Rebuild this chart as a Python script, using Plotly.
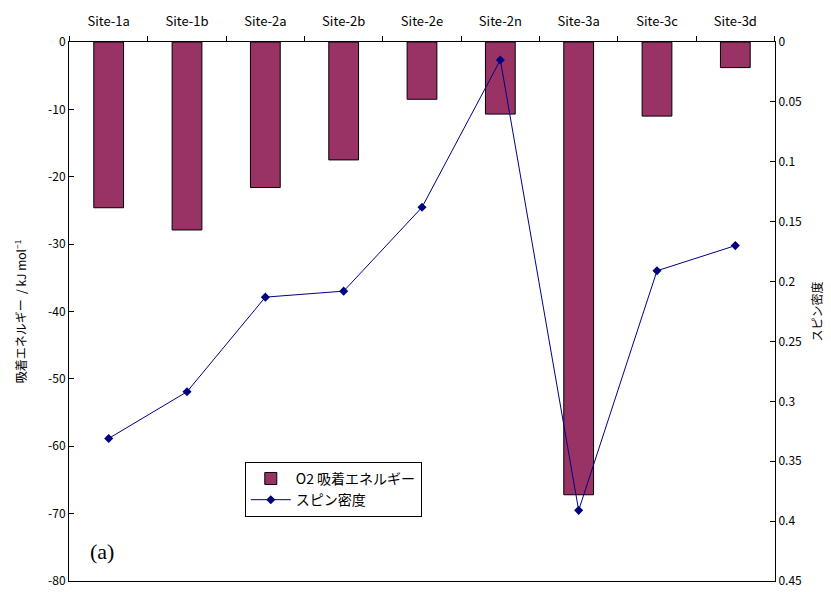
import plotly.graph_objects as go

# Adsorption sites along the top axis
sites = ["Site-1a", "Site-1b", "Site-2a", "Site-2b", "Site-2e",
         "Site-2n", "Site-3a", "Site-3c", "Site-3d"]

# O2 adsorption energy (kJ/mol), left axis
adsorption_energy = [-24.6, -27.9, -21.6, -17.5, -8.5, -10.7, -67.2, -11.0, -3.8]

# Spin density, right axis (reversed)
spin_density = [0.331, 0.292, 0.213, 0.208, 0.138, 0.015, 0.391, 0.191, 0.170]

energy_ticks = [0, -10, -20, -30, -40, -50, -60, -70, -80]
energy_ticktext = ["0", "-10", "-20", "-30", "-40", "-50", "-60", "-70", "-80"]

jp_font = "Noto Sans CJK JP"

fig = go.Figure()

fig.add_trace(go.Bar(
    x=sites, y=adsorption_energy,
    name="O2 吸着エネルギー",
    marker=dict(color="#993366", line=dict(color="black", width=1)),
    yaxis="y",
))

fig.add_trace(go.Scatter(
    x=sites, y=spin_density,
    name="スピン密度",
    mode="lines+markers",
    line=dict(color="#000080", width=1),
    marker=dict(symbol="diamond", size=7, color="#000080"),
    yaxis="y2",
))

fig.update_layout(
    width=831, height=592,
    margin=dict(l=69, r=56, t=42, b=11, autoexpand=False),
    paper_bgcolor="white", plot_bgcolor="white",
    font=dict(family=jp_font, size=12, color="black"),
    bargap=0.62,
    showlegend=True,
    legend=dict(
        x=0.249, y=0.221, xanchor="left", yanchor="top",
        bordercolor="black", borderwidth=1, bgcolor="white",
        font=dict(family=jp_font, size=14),
        itemwidth=40, tracegroupgap=6,
    ),
    xaxis=dict(
        type="category", side="top", automargin=False,
        showline=True, linecolor="black", linewidth=1, mirror=True,
        ticks="outside", ticklen=5, tickcolor="black",
        tickson="boundaries", ticklabelstandoff=10,
        showgrid=False, zeroline=False,
        tickfont=dict(family=jp_font, size=13),
    ),
    yaxis=dict(
        range=[-80, 0], automargin=False,
        tickvals=energy_ticks, ticktext=energy_ticktext,
        showline=True, linecolor="black", linewidth=1,
        ticks="inside", ticklen=5, tickcolor="black",
        showgrid=False, zeroline=False,
        tickfont=dict(family=jp_font, size=12),
        title=dict(text="吸着エネルギー  / kJ mol<sup>−1</sup>",
                   font=dict(family=jp_font, size=12), standoff=18),
    ),
    yaxis2=dict(
        overlaying="y", side="right", automargin=False,
        range=[0.45, 0], dtick=0.05, tick0=0,
        showline=True, linecolor="black", linewidth=1,
        ticks="inside", ticklen=5, tickcolor="black",
        showgrid=False, zeroline=False,
        tickfont=dict(family=jp_font, size=12),
        title=dict(text="スピン密度", font=dict(family=jp_font, size=12),
                   standoff=12),
    ),
    annotations=[dict(
        text="(a)", xref="paper", yref="paper",
        x=0.027, y=0.055, xanchor="left", yanchor="middle",
        showarrow=False,
        font=dict(family="Liberation Serif", size=22, color="black"),
    )],
)

fig.write_html("out.html")
